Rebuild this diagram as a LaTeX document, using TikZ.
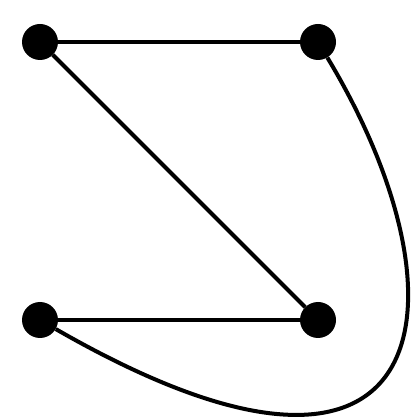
\documentclass[tikz,border=0pt]{standalone}
\usepackage{tikz}
\begin{document}
\begin{tikzpicture}[
  x=1pt,y=1pt,
  vertex/.style={circle,fill=black,inner sep=0pt,minimum size=36pt},
  edge/.style={line width=4pt,draw=black}
]
\useasboundingbox (0,0) rectangle (420,420);
\node[vertex] (tl) at (40,378) {};
\node[vertex] (tr) at (318,378) {};
\node[vertex] (bl) at (40,100) {};
\node[vertex] (br) at (318,100) {};

\draw[edge] (tl) -- (tr);
\draw[edge] (tl) -- (br);
\draw[edge] (bl) -- (br);
\draw[edge] (tr) .. controls (475,117) and (440,-130) .. (bl);
\end{tikzpicture}
\end{document}
